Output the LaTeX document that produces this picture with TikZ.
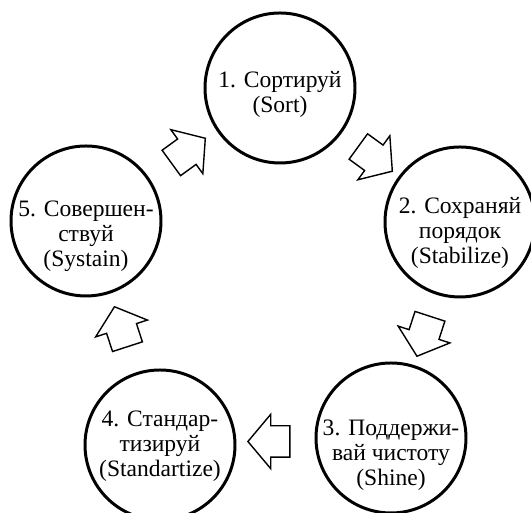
\documentclass[tikz,border=0pt]{standalone}
\usepackage{fontspec}
\setmainfont{Liberation Serif}
\usetikzlibrary{shapes.arrows,calc}

\tikzset{
  stage/.style={draw, circle, line width=1.7pt, minimum size=3cm, inner sep=0pt},
  stagetext/.style={align=center, inner sep=0pt, font=\fontsize{13.4}{14.2}\selectfont},
  flow/.style={draw, single arrow, fill=white, line width=0.8pt,
    inner xsep=0pt, inner ysep=0.3cm,
    minimum height=0.84cm, minimum width=1.06cm,
    single arrow head extend=0.23cm, single arrow tip angle=100}
}

\begin{document}
\begin{tikzpicture}
    \useasboundingbox (0,0) rectangle (10.62,10.26);

    % five steps
    \node[stage] (sort)  at (5.60,8.50) {};
    \node[stage] (stab)  at (9.20,5.82) {};
    \node[stage] (shine) at (7.82,1.50) {};
    \node[stage] (stand) at (3.20,1.36) {};
    \node[stage] (sust)  at (1.72,5.84) {};

    \node[stagetext, yshift=-0.12cm] (sorttxt)  at (sort)  {1. Сортируй\\(Sort)};
    \node[stagetext, yshift=-0.22cm] (stabtxt)  at (stab)  {2. Сохраняй\\порядок\\(Stabilize)};
    \node[stagetext, yshift=-0.34cm] (shinetxt) at (shine) {3. Поддержи-\\вай чистоту\\(Shine)};
    \node[stagetext, yshift=-0.02cm] (standtxt) at (stand) {4. Стандар-\\тизируй\\(Standartize)};
    \node[stagetext, yshift=-0.30cm] (susttxt)  at (sust)  {5. Совершен-\\ствуй\\(Systain)};

    % arrows between them
    \node[flow, rotate=-36]  (a12) at ($(sort)!0.5!(stab)$) {};
    \node[flow, rotate=-108] (a23) at ($(stab)!0.5!(shine)$) {};
    \node[flow, rotate=180]  (a34) at ($(shine)!0.5!(stand)$) {};
    \node[flow, rotate=108]  (a45) at ($(stand)!0.5!(sust)$) {};
    \node[flow, rotate=36]   (a51) at ($(sust)!0.5!(sort)$) {};
\end{tikzpicture}
\end{document}
